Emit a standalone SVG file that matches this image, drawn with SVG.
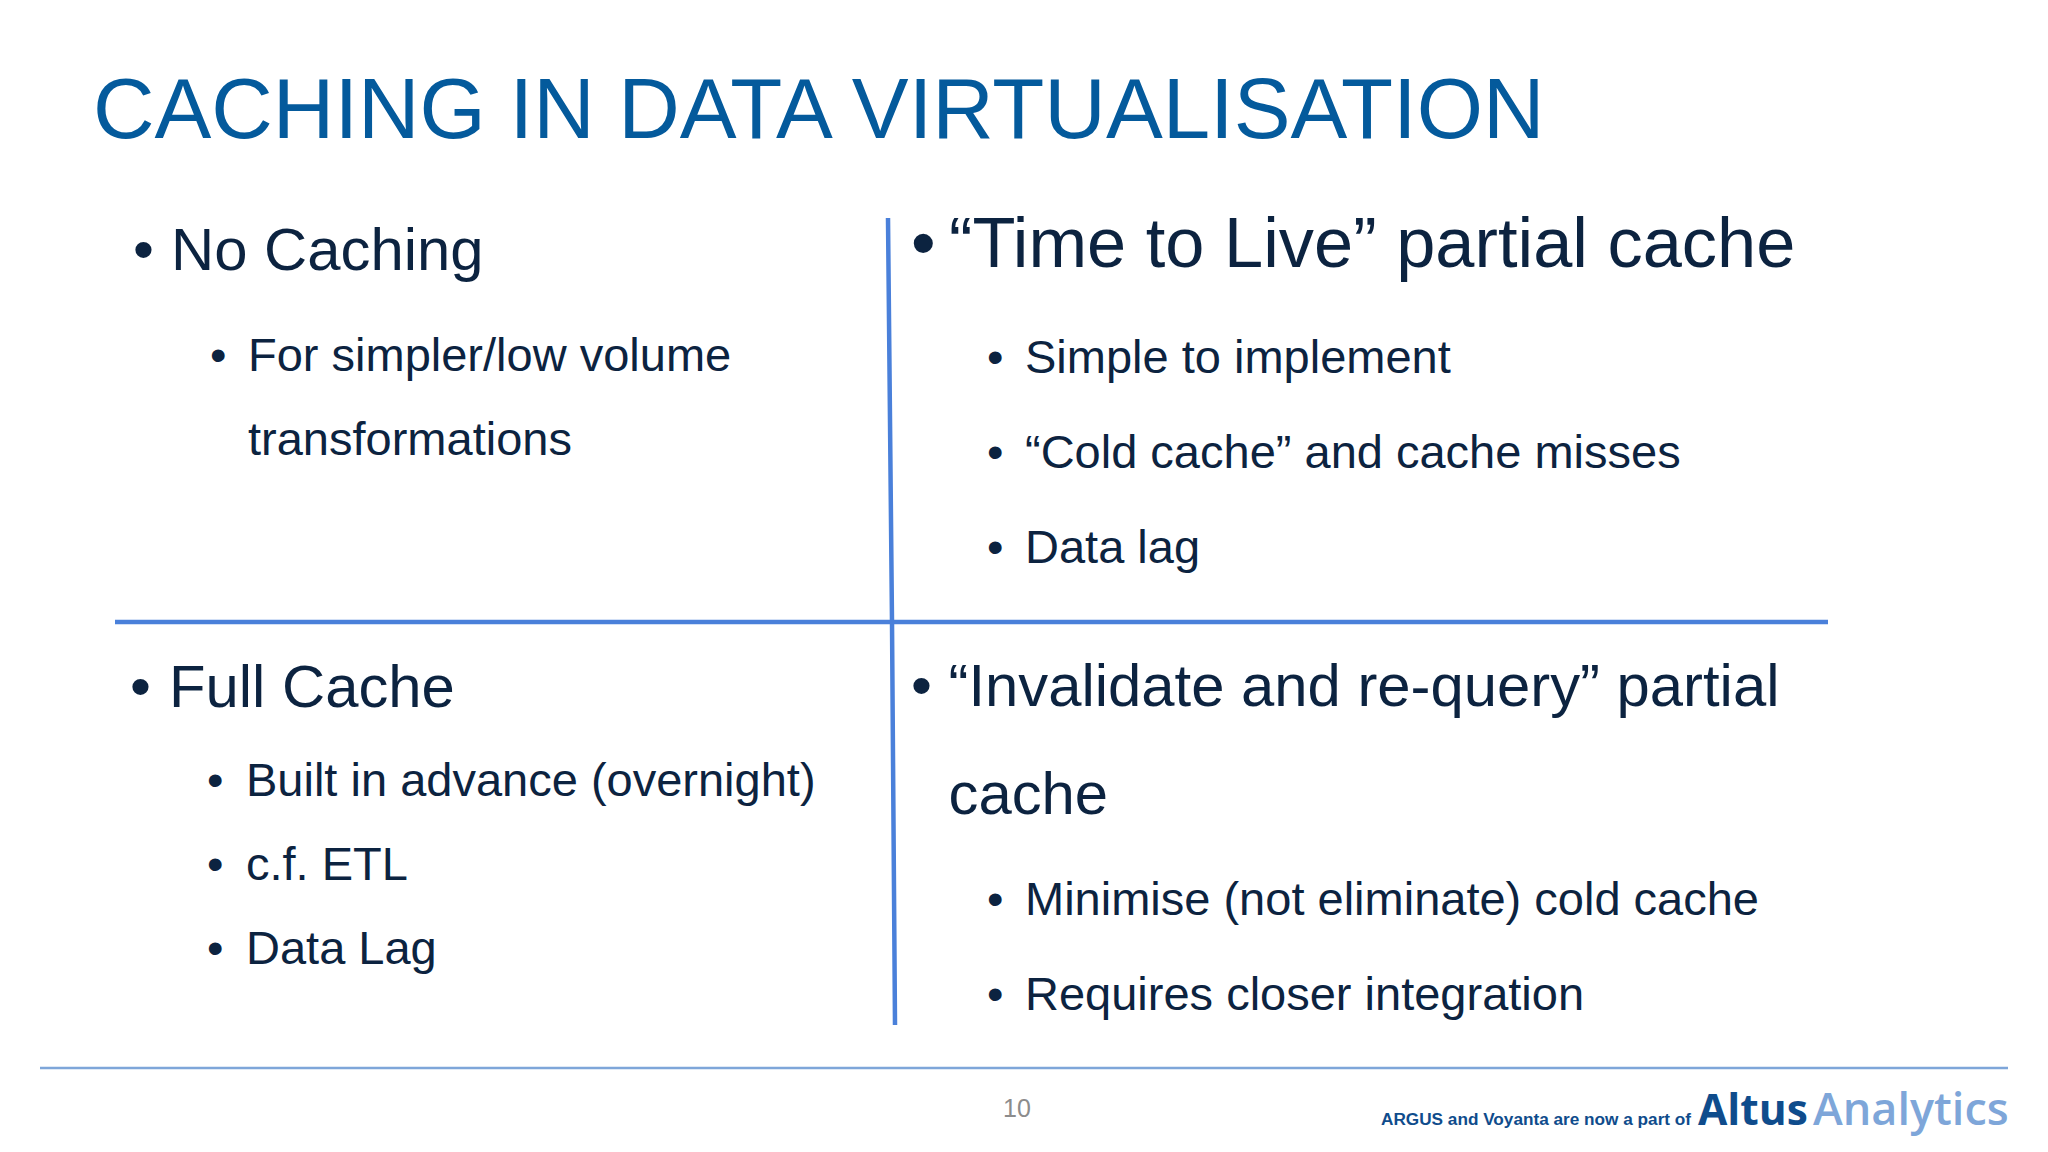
<svg xmlns="http://www.w3.org/2000/svg" width="2048" height="1152" viewBox="0 0 2048 1152">
<style>
text{font-family:"Liberation Sans",Arial,sans-serif}
.t{fill:#0c2340}
.a{font-size:59.8px}
.b{font-size:47px}
.c{font-size:70.4px}
.d{font-size:59.8px}
.l{stroke:#4a80da;stroke-width:4.5;fill:none}
</style>
<rect width="2048" height="1152" fill="#fff"/>
<text id="title" x="93" y="137.5" font-size="85.2" fill="#045a9c">CACHING IN DATA VIRTUALISATION</text>
<g id="connectors">
<path class="l" d="M888 218L892 622L895 1025"/>
<path class="l" d="M115 622H1828"/>
<path d="M40 1068H2008" stroke="#7ea6d9" stroke-width="2.5" fill="none"/>
</g>
<g id="top-left">
<text class="t a" x="133" y="270">•</text><text class="t a" x="171" y="270">No Caching</text>
<text class="t b" x="210" y="371">•</text><text class="t b" x="248" y="371">For simpler/low volume</text>
<text class="t b" x="248" y="455">transformations</text>
</g>
<g id="top-right">
<text class="t c" x="911" y="267">•</text><text class="t c" x="949" y="267">“Time to Live” partial cache</text>
<text class="t b" x="987" y="373">•</text><text class="t b" x="1025" y="373">Simple to implement</text>
<text class="t b" x="987" y="468">•</text><text class="t b" x="1025" y="468">“Cold cache” and cache misses</text>
<text class="t b" x="987" y="563">•</text><text class="t b" x="1025" y="563">Data lag</text>
</g>
<g id="bottom-left">
<text class="t a" x="130" y="707">•</text><text class="t a" x="169" y="707">Full Cache</text>
<text class="t b" x="207" y="796">•</text><text class="t b" x="246" y="796">Built in advance (overnight)</text>
<text class="t b" x="207" y="880">•</text><text class="t b" x="246" y="880">c.f. ETL</text>
<text class="t b" x="207" y="964">•</text><text class="t b" x="246" y="964">Data Lag</text>
</g>
<g id="bottom-right">
<text class="t d" x="911" y="706">•</text><text class="t d" x="948.500" y="706">“Invalidate and re-query” partial</text>
<text class="t d" x="948.500" y="814">cache</text>
<text class="t b" x="987" y="915">•</text><text class="t b" x="1025" y="915">Minimise (not eliminate) cold cache</text>
<text class="t b" x="987" y="1010">•</text><text class="t b" x="1025" y="1010">Requires closer integration</text>
</g>
<g id="footer">
<text x="1003" y="1117" font-size="25" fill="#8c8c8c">10</text>
<text x="1381" y="1125" font-size="17.2" font-weight="700" fill="#0f4c8c">ARGUS and Voyanta are now a part of</text>
<text x="1698" y="1125" font-size="42.5" font-weight="700" fill="#0f4c8c" style="font-family:'Open Sans',sans-serif">Altus</text>
<text x="1813" y="1125" font-size="45" font-weight="600" fill="#7ea6d9" style="font-family:'Open Sans',sans-serif">Analytics</text>
</g>
</svg>
